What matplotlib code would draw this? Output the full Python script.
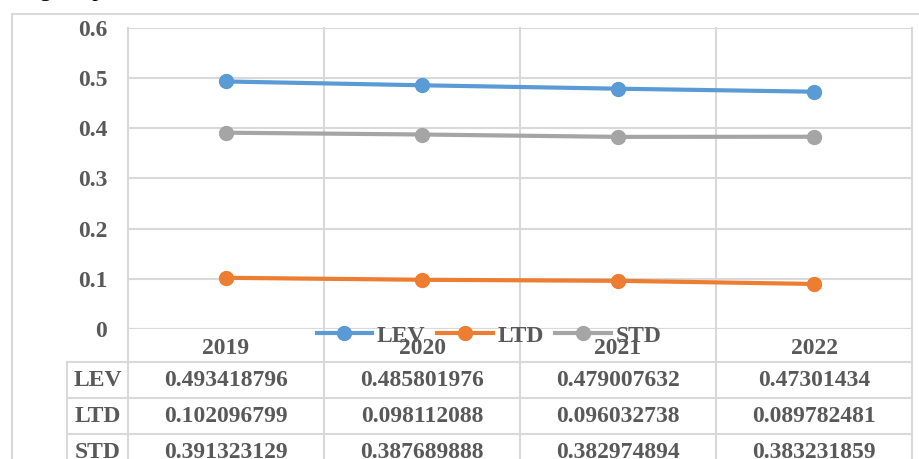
import matplotlib
matplotlib.use('Agg')
import matplotlib.pyplot as plt
import matplotlib.transforms as mtransforms
from matplotlib.lines import Line2D

years = ['2019', '2020', '2021', '2022']
lev = [0.493418796, 0.485801976, 0.479007632, 0.47301434]
ltd = [0.102096799, 0.098112088, 0.096032738, 0.089782481]
std = [0.391323129, 0.387689888, 0.382974894, 0.383231859]
series_names = ['LEV', 'LTD', 'STD']
series_values = [lev, ltd, std]
colors = ['#5B9BD5', '#ED7D31', '#A5A5A5']
yticks = [0, 0.1, 0.2, 0.3, 0.4, 0.5, 0.6]

W, H = 919, 459
grid_c = '#D9D9D9'
text_c = '#595959'
serif = 'Liberation Serif'
fs = 17

fig = plt.figure(figsize=(W / 100, H / 100), dpi=100)
ax = fig.add_axes([128 / W, 1 - 329 / H, 784 / W, 301 / H])

x = list(range(len(years)))
for name, vals, c in zip(series_names, series_values, colors):
    ax.plot(x, vals, color=c, lw=3, marker='o', ms=10, label=name, zorder=3)

ax.set_xlim(-0.5, len(years) - 0.5)
ax.set_ylim(0, 0.6)
ax.set_yticks(yticks)
ax.set_yticklabels([('%g' % t) for t in yticks], fontfamily=serif,
                   fontweight='bold', fontsize=fs, color=text_c)
ax.tick_params(axis='y', length=0, pad=15)
ax.set_xticks([])
for s in ax.spines.values():
    s.set_visible(False)
ax.grid(axis='y', color=grid_c, lw=1.5)
ax.axhline(0, color=grid_c, lw=1.5, zorder=1)

# table below the plot
px = lambda p: (329 - p) / 301  # pixel row -> axes y
blend = mtransforms.blended_transform_factory(ax.transData, ax.transAxes)
for b in [i - 0.5 for i in range(len(years) + 1)]:
    ax.axvline(b, ymin=px(470), ymax=1, color=grid_c, lw=1.5, clip_on=False, zorder=1)
left_col = -0.5 - 61 / 196
ax.plot([left_col, left_col], [px(362), px(470)], transform=blend,
        color=grid_c, lw=1.5, clip_on=False)
for p in [362, 398, 434]:
    ax.plot([left_col, len(years) - 0.5], [px(p), px(p)], transform=blend,
            color=grid_c, lw=1.5, clip_on=False)

for i, yr in enumerate(years):
    ax.text(i, px(348), yr, transform=blend, ha='center', va='center',
            fontfamily=serif, fontweight='bold', fontsize=fs, color=text_c)
row_y = [380, 416, 452]
for name, vals, ry in zip(series_names, series_values, row_y):
    ax.text((left_col - 0.5) / 2, px(ry), name, transform=blend, ha='center',
            va='center', fontfamily=serif, fontweight='bold', fontsize=fs, color=text_c)
    for i, v in enumerate(vals):
        ax.text(i, px(ry), ('%.9f' % v).rstrip('0'), transform=blend, ha='center',
                va='center', fontfamily=serif, fontweight='bold', fontsize=fs, color=text_c)

leg = fig.legend(loc='center', bbox_to_anchor=(489 / W, 1 - 336 / H), ncol=3,
                 frameon=False, handlelength=2.35, handletextpad=0.2,
                 columnspacing=0.5, prop={'family': serif, 'weight': 'bold', 'size': fs})
for t in leg.get_texts():
    t.set_color(text_c)

# outer chart frame
fig.add_artist(Line2D([12 / W, 12 / W], [0, 1 - 14 / H], color=grid_c, lw=1.5))
fig.add_artist(Line2D([12 / W, 1], [1 - 14 / H, 1 - 14 / H], color=grid_c, lw=1.5))

# caption text cut off at the top
fig.text(28 / W, 1 + 4 / H, 'ng the period 2019 to 2022', fontfamily=serif,
         fontsize=fs, color='black', va='baseline')

fig.savefig('out.png', dpi=100)
